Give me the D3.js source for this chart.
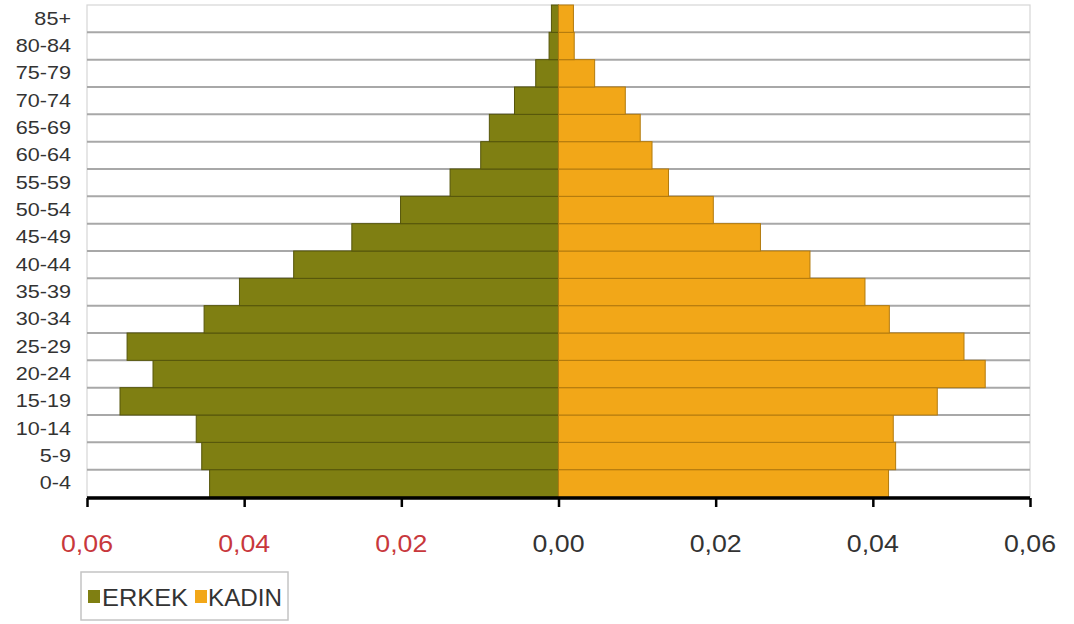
<!DOCTYPE html>
<html>
<head>
<meta charset="utf-8">
<script src="https://cdn.jsdelivr.net/npm/d3@7/dist/d3.min.js"></script>
<style>
  html, body { margin: 0; padding: 0; background: #fff; }
  svg { display: block; }
  text { font-family: "Liberation Sans", Arial, sans-serif; }
</style>
</head>
<body>
<svg id="chart" width="1074" height="624"></svg>
<script>
// ---- data ----
const ageGroups = ["0-4","5-9","10-14","15-19","20-24","25-29","30-34","35-39","40-44","45-49","50-54","55-59","60-64","65-69","70-74","75-79","80-84","85+"];
const erkek = [0.0444,0.0454,0.0461,0.0558,0.0516,0.0549,0.0451,0.0406,0.0337,0.0263,0.0201,0.0138,0.0099,0.0088,0.0056,0.0029,0.0012,0.0009];
const kadin = [0.0420,0.0429,0.0426,0.0482,0.0543,0.0516,0.0421,0.0390,0.0320,0.0257,0.0197,0.0140,0.0119,0.0104,0.0085,0.0046,0.0020,0.0019];
const tickValues = [-0.06,-0.04,-0.02,0,0.02,0.04,0.06];
const tickLabels = ["0,06","0,04","0,02","0,00","0,02","0,04","0,06"];
const seriesNames = ["ERKEK","KADIN"];

(function () {
const colMale = "#7f7f12", colMaleStroke = "#55550a";
const colFemale = "#f2a718", colFemaleStroke = "#b27a0e";

const svg = d3.select("#chart");
const mLeft = 87, mRight = 1030, mTop = 5, mBottom = 497;

const x = d3.scaleLinear().domain([-0.06, 0.06]).range([mLeft, mRight]);
const y = d3.scaleBand().domain(ageGroups.slice().reverse()).range([mTop, mBottom]).padding(0);

// plot frame (light)
svg.append("rect")
  .attr("x", mLeft).attr("y", mTop)
  .attr("width", mRight - mLeft).attr("height", mBottom - mTop)
  .attr("fill", "#fff").attr("stroke", "#d6d6d6").attr("stroke-width", 1.2);

// horizontal gridlines at band boundaries
const bounds = ageGroups.slice().reverse().slice(1).map(a => y(a));
svg.append("g").selectAll("line").data(bounds).join("line")
  .attr("x1", mLeft).attr("x2", mRight)
  .attr("y1", d => d).attr("y2", d => d)
  .attr("stroke", "#a8a8a8").attr("stroke-width", 2);

// bars
const rows = ageGroups.map((a, i) => ({ age: a, m: erkek[i], f: kadin[i] }));
const gBars = svg.append("g");
gBars.selectAll("rect.m").data(rows).join("rect").attr("class", "m")
  .attr("x", d => x(-d.m)).attr("y", d => y(d.age))
  .attr("width", d => x(0) - x(-d.m)).attr("height", y.bandwidth())
  .attr("fill", colMale).attr("stroke", colMaleStroke).attr("stroke-width", 1);
gBars.selectAll("rect.f").data(rows).join("rect").attr("class", "f")
  .attr("x", x(0)).attr("y", d => y(d.age))
  .attr("width", d => x(d.f) - x(0)).attr("height", y.bandwidth())
  .attr("fill", colFemale).attr("stroke", colFemaleStroke).attr("stroke-width", 1);

// y labels
svg.append("g").selectAll("text").data(ageGroups).join("text")
  .attr("transform", d => `translate(71,${y(d) + y.bandwidth() / 2 + 6}) scale(1.2,1)`)
  .attr("text-anchor", "end")
  .attr("font-size", 18)
  .attr("fill", "#333")
  .text(d => d);

// x axis
const xAxis = d3.axisBottom(x).tickValues(tickValues).tickSize(9).tickFormat(() => "");
const gx = svg.append("g").attr("transform", `translate(0,${mBottom + 1})`).call(xAxis);
gx.select(".domain").attr("stroke", "#000").attr("stroke-width", 3.5)
  .attr("d", `M${mLeft},0H${mRight}`);
gx.selectAll(".tick line").attr("stroke", "#000").attr("stroke-width", 2.5);

// tick labels
svg.append("g").selectAll("text").data(tickValues).join("text")
  .attr("x", d => x(d)).attr("y", 552)
  .attr("text-anchor", "middle")
  .attr("font-size", 23)
  .attr("textLength", 52).attr("lengthAdjust", "spacingAndGlyphs")
  .attr("fill", d => d < 0 ? "#c8383c" : "#333")
  .text((d, i) => tickLabels[i]);

// legend
const lg = svg.append("g");
lg.append("rect").attr("x", 81).attr("y", 572).attr("width", 207).attr("height", 48)
  .attr("fill", "#fff").attr("stroke", "#c4c4c4").attr("stroke-width", 1.5);
const legendItems = [
  { name: seriesNames[0], color: colMale, sx: 88, tx: 102, w: 86 },
  { name: seriesNames[1], color: colFemale, sx: 195, tx: 208, w: 74 }
];
lg.selectAll("rect.sw").data(legendItems).join("rect").attr("class", "sw")
  .attr("x", d => d.sx).attr("y", 590).attr("width", 12).attr("height", 13)
  .attr("fill", d => d.color);
lg.selectAll("text").data(legendItems).join("text")
  .attr("x", d => d.tx).attr("y", 606)
  .attr("font-size", 23)
  .attr("textLength", d => d.w).attr("lengthAdjust", "spacingAndGlyphs")
  .attr("fill", "#333")
  .text(d => d.name);
})();
</script>
</body>
</html>
